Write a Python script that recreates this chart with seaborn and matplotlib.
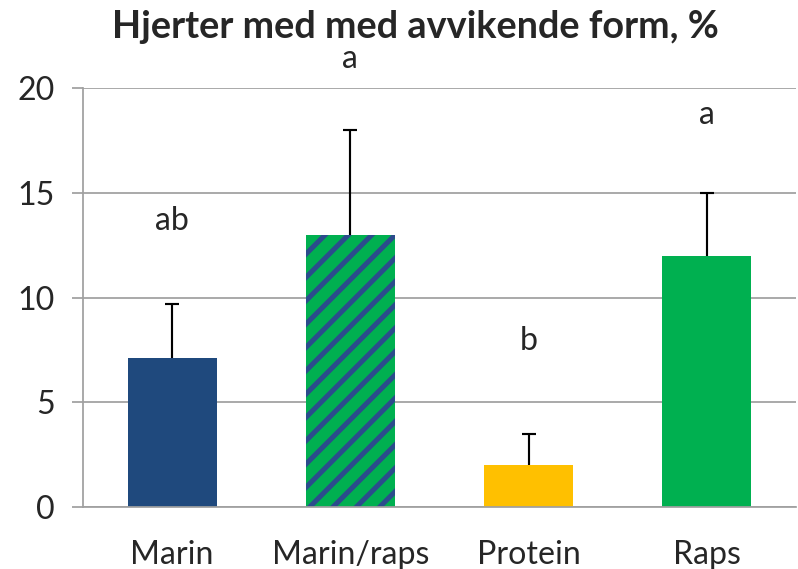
import numpy as np
import pandas as pd
import matplotlib
matplotlib.use("Agg")
import matplotlib.pyplot as plt
import seaborn as sns

# ====================== DATA ======================

categories = ["Marin", "Marin/raps", "Protein", "Raps"]
values     = [7.1, 13.0, 2.0, 12.0]
errors     = [2.6, 5.0, 1.5, 3.0]
letters    = ["ab", "a", "b", "a"]
letter_y   = [13.2, 20.95, 7.5, 18.3]
yticks     = [0, 5, 10, 15, 20]

bar_colors = ["#1F497D", "#00B050", "#FFC000", "#00B050"]
stripe_col = "#2B4C8C"
grid_col   = "#A0A0A0"

# ====================== PLOT ======================

sns.set_style("white")
plt.rcParams["font.family"] = ["Lato", "DejaVu Sans"]
plt.rcParams["hatch.linewidth"] = 2.6

fig = plt.figure(figsize=(5.7, 569 / 140), dpi=140)
ax  = fig.add_axes([83 / 798, 1 - 507 / 569, 713 / 798, 419 / 569])

df = pd.DataFrame({"group": categories, "value": values})
sns.barplot(data=df, x="group", y="value", hue="group", palette=bar_colors,
            legend=False, width=0.5, errorbar=None, saturation=1,
            linewidth=0, ax=ax, zorder=2)

# striped bar for Marin/raps
striped = ax.patches[1]
striped.set_hatch("//")
striped.set_edgecolor(stripe_col)
striped.set_linewidth(0)

# upper error bars only
eb = ax.errorbar(range(len(values)), values,
                 yerr=[np.zeros(len(errors)), errors],
                 fmt="none", ecolor="black", elinewidth=1.1, capsize=3.4,
                 capthick=1.1, zorder=3)
eb[1][0].set_visible(False)   # drop the lower caps

for i, (lab, ly) in enumerate(zip(letters, letter_y)):
    ax.text(i, ly, lab, ha="center", va="baseline", fontsize=16.5, clip_on=False)

ax.set_xlim(-0.5, len(categories) - 0.5)
ax.set_ylim(0, 20)
ax.set_yticks(yticks)
ax.set_xlabel("")
ax.set_ylabel("")

ax.yaxis.grid(True, color=grid_col, linewidth=0.9, zorder=0)
ax.set_axisbelow(True)

for side in ["top", "right"]:
    ax.spines[side].set_visible(False)
for side in ["left", "bottom"]:
    ax.spines[side].set_color(grid_col)
    ax.spines[side].set_linewidth(0.9)

ax.set_xticks(np.arange(-0.5, len(categories)), minor=True)
ax.tick_params(axis="x", which="major", length=0, pad=17, labelsize=16.5)
ax.tick_params(axis="x", which="minor", length=5.5, width=0.9,
               color=grid_col, direction="out")
ax.tick_params(axis="y", length=5.5, width=0.9, color=grid_col,
               direction="out", pad=9, labelsize=16.5, left=True)

fig.text(415 / 798, 1 - 38 / 569, "Hjerter med med avvikende form, %",
         ha="center", va="baseline", fontsize=19.5, fontweight="bold")

fig.savefig("out.png", dpi=140)
